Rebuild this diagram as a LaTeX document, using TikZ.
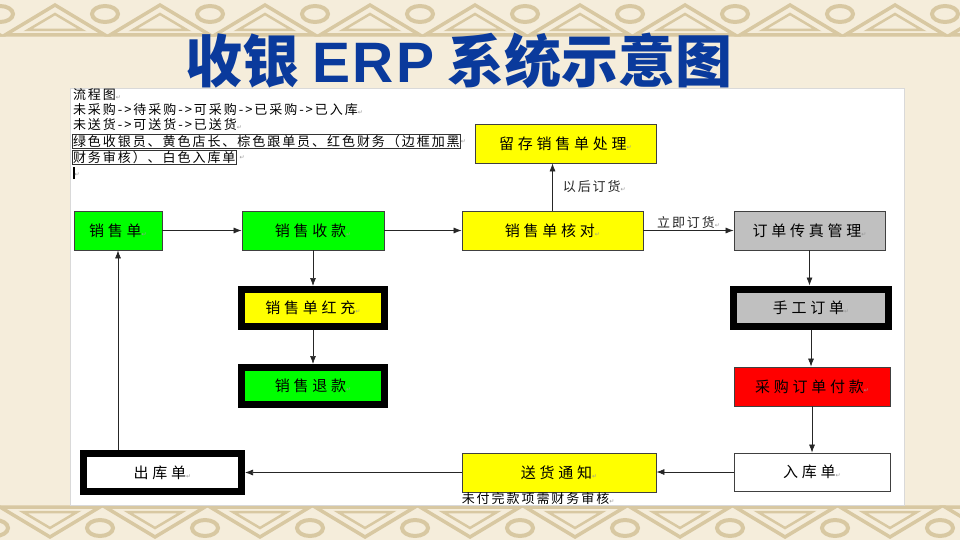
\documentclass[tikz,border=0pt]{standalone}
\usepackage{fontspec}
\setmainfont{Noto Sans CJK SC}
\newfontfamily\symfont{DejaVu Sans}
\newfontfamily\boxfont[LetterSpace=25]{Noto Sans CJK SC}
\newfontfamily\notefont[LetterSpace=15]{Noto Sans CJK SC}
\newfontfamily\erpfont[LetterSpace=4]{Liberation Sans}
\usepackage{xcolor}
\definecolor{titleblue}{HTML}{0A3A9C}
\definecolor{paper}{HTML}{F5EDDB}
\definecolor{knot}{HTML}{D8C8A2}
\definecolor{cashgreen}{HTML}{00FF00}
\definecolor{bossyellow}{HTML}{FFFF00}
\definecolor{clerkgray}{HTML}{C0C0C0}
\definecolor{finred}{HTML}{FF0000}
\newcommand\pmk{{\symfont\fontsize{6}{6}\selectfont\color{black!40}↵}}
\usetikzlibrary{arrows.meta,positioning}
\tikzset{
    x=1pt, y=-1pt,
    >={Latex[length=8pt,width=6pt]},
    box/.style={draw=black!75, line width=0.8pt, minimum height=39pt, inner sep=0pt, font=\fontsize{15}{15}\boxfont},
    heavy/.style={box, draw=black, line width=7pt, minimum height=37pt},
    flow/.style={->, line width=0.7pt, black!85},
    el/.style={inner sep=2pt, font=\fontsize{13}{13}\notefont},
    line/.style={anchor=west, inner sep=0.8pt, font=\fontsize{13}{13}\notefont}
}

\begin{document}
\begin{tikzpicture}
    \useasboundingbox (0,0) rectangle (960,540);
    \fill[paper] (0,0) rectangle (960,540);
    % knot borders
    \foreach \i in {-1,...,9} {
      \draw[knot, line width=3.5pt] (\i*105+5,35) -- (\i*105+55,5) -- (\i*105+105,35) -- cycle;
      \draw[knot, line width=2.5pt] (\i*105+28,30) -- (\i*105+55,14) -- (\i*105+82,30) -- cycle;
      \draw[knot, line width=4pt] (\i*105+105,14) ellipse (13 and 8);
      \draw[knot, line width=3.5pt] (\i*105+0,507) -- (\i*105+50,537) -- (\i*105+100,507) -- cycle;
      \draw[knot, line width=2.5pt] (\i*105+23,512) -- (\i*105+50,528) -- (\i*105+77,512) -- cycle;
      \draw[knot, line width=4pt] (\i*105+100,528) ellipse (13 and 8);
    }
    \fill[white, draw=black!15] (70,88) rectangle (904,505);

    \node[font=\fontsize{57}{57}\selectfont\bfseries, text=titleblue] (title) at (459,61) {收银 {\erpfont\bfseries ERP} 系统示意图};

    % legend text
    \node[line] (l1) at (72,95) {流程图\pmk};
    \node[line] (l2) at (72,110) {未采购->待采购->可采购->已采购->已入库\pmk};
    \node[line] (l3) at (72,125) {未送货->可送货->已送货\pmk};
    \node[line, draw=black!80] (l4) at (72,141.5) {绿色收银员、黄色店长、棕色跟单员、红色财务（边框加黑};
    \node[line, right=0pt of l4, inner sep=0pt] {\pmk};
    \node[line, draw=black!80] (l5) at (72,157.5) {财务审核）、白色入库单};
    \node[line, right=3pt of l5, inner sep=0pt] {\pmk};
    \node[line] (l6) at (72,173) {\rule[-2pt]{1.6pt}{12pt}\pmk};

    % boxes
    \node[box, fill=cashgreen, minimum width=88pt] (xsd) at (118,230.5) {销售单\pmk};
    \node[box, fill=cashgreen, minimum width=142pt] (sk) at (313,230.5) {销售收款\pmk};
    \node[box, fill=bossyellow, minimum width=181pt] (hd) at (552.5,230.5) {销售单核对\pmk};
    \node[box, fill=clerkgray, minimum width=151pt] (cz) at (809.5,230.5) {订单传真管理\pmk};
    \node[box, fill=bossyellow, minimum width=181pt] (lc) at (565.5,143.5) {留存销售单处理\pmk};
    \node[heavy, fill=bossyellow, minimum width=143pt] (hc) at (313,308) {销售单红充\pmk};
    \node[heavy, fill=cashgreen, minimum width=143pt] (tk) at (313,386) {销售退款\pmk};
    \node[heavy, fill=clerkgray, minimum width=155pt] (sg) at (811,307.5) {手工订单\pmk};
    \node[box, fill=finred, minimum width=156pt] (fk) at (812,386.5) {采购订单付款\pmk};
    \node[box, fill=white, minimum width=156pt, minimum height=38pt] (rk) at (812,472) {入库单\pmk};
    \node[box, fill=bossyellow, minimum width=194pt] (sh) at (559,472.5) {送货通知\pmk};
    \node[heavy, fill=white, minimum width=158pt, minimum height=38pt] (ck) at (162.5,472.5) {出库单\pmk};
    \node[el, anchor=north west, inner sep=0pt] (note) at (sh.south west) {未付完款项需财务审核\pmk};

    % connectors
    \path[flow] (xsd) edge (sk);
    \path[flow] (sk) edge (hd);
    \path[flow] (hd) edge node[above, el] {立即订货\pmk} (cz);
    \path[flow] (hd.north) edge node[right, el, xshift=8pt] {以后订货\pmk} (hd.north |- lc.south);
    \path[flow] (sk) edge (hc);
    \path[flow] (hc) edge (tk);
    \path[flow] (cz.south) edge (cz.south |- sg.north);
    \path[flow] (sg.south) edge (sg.south |- fk.north);
    \path[flow] (fk) edge (rk);
    \path[flow] (rk.west) edge (rk.west -| sh.east);
    \path[flow] (sh) edge (ck);
    \path[flow] (ck.north -| xsd.south) edge (xsd.south);
\end{tikzpicture}
\end{document}
